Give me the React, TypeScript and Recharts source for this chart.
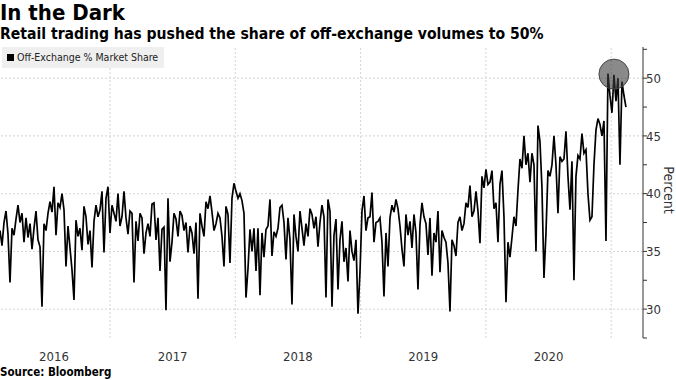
import React from "react";
import {
  ComposedChart,
  Line,
  Scatter,
  XAxis,
  YAxis,
  ReferenceLine,
} from "recharts";

// roughly one reading every 4 trading days, from mid-Feb 2016
const firstObs = 2016.122;
const obsPerYear = 62.65;

const shareValues = [
  36.8, 35.5, 37.5, 38.5, 36.5, 32.3, 37.0, 36.4, 37.8, 39.0,
  37.5, 38.3, 35.8, 37.9, 36.2, 37.4, 35.2, 37.0, 38.5, 36.0,
  35.4, 30.2, 37.4, 36.8, 38.3, 39.3, 38.4, 40.6, 36.4, 39.2,
  38.8, 40.0, 38.6, 33.7, 37.2, 35.3, 33.4, 30.8, 37.7, 36.3,
  37.0, 35.1, 38.9, 38.0, 35.6, 36.8, 33.6, 37.6, 39.0, 38.0,
  38.6, 40.2, 34.9, 39.6, 40.6, 36.6, 39.0, 38.3, 37.6, 40.0,
  37.2, 38.0, 40.2, 37.9, 36.5, 38.5, 38.3, 32.3, 37.6, 35.9,
  38.3, 37.9, 34.8, 36.6, 37.4, 36.3, 39.1, 39.2, 36.0, 37.9,
  33.3, 36.9, 37.1, 29.9, 39.6, 34.1, 35.8, 38.3, 37.8, 36.3,
  38.5, 38.1, 36.8, 37.5, 34.9, 37.2, 36.6, 34.8, 37.5, 30.9,
  38.3, 37.2, 36.3, 39.3, 38.7, 39.8, 38.4, 36.8, 37.4, 38.3,
  37.9, 36.3, 33.7, 38.9, 38.2, 34.0, 39.6, 40.9, 40.2, 39.6,
  40.0, 39.4, 38.3, 31.0, 33.5, 36.9, 35.0, 37.0, 33.3, 37.0,
  31.2, 36.6, 34.5, 36.9, 37.2, 39.5, 34.6, 36.7, 36.3, 37.0,
  38.8, 39.0, 37.5, 34.3, 37.9, 36.0, 30.4, 38.2, 36.3, 35.0,
  38.5, 37.0, 35.5, 37.4, 36.3, 38.7, 38.2, 37.0, 38.0, 35.4,
  37.5, 39.0, 38.0, 31.0, 39.5, 38.5, 30.2, 36.4, 37.8, 31.7,
  36.0, 37.6, 34.1, 35.3, 32.4, 36.8, 35.0, 34.2, 36.0, 29.6,
  33.2, 38.5, 39.8, 36.8, 37.9, 38.0, 40.1, 35.8, 37.5, 37.6,
  37.9, 35.8, 31.1, 36.6, 33.7, 37.9, 39.0, 38.4, 39.5, 38.7,
  37.2, 35.2, 33.7, 38.2, 36.4, 37.6, 35.3, 38.2, 36.6, 31.7,
  37.3, 39.2, 38.0, 37.4, 34.7, 37.9, 32.9, 36.6, 35.8, 38.5,
  33.2, 36.8, 36.2, 35.8, 34.0, 29.8, 36.0, 35.5, 34.6, 37.5,
  38.0, 36.8, 37.4, 39.2, 38.8, 40.7, 38.0, 38.5, 40.2, 38.5,
  35.7, 41.5, 40.5, 42.1, 40.8, 41.0, 42.0, 38.7, 39.2, 35.8,
  40.8, 42.0, 38.0, 30.6, 35.8, 34.5, 36.2, 38.0, 37.2, 40.3,
  43.0, 42.2, 45.0, 42.5, 43.5, 41.0, 43.5, 42.5, 35.0, 45.9,
  44.5, 40.5, 32.7, 36.6, 42.0, 41.5, 42.5, 45.0, 42.5, 38.3,
  43.2, 42.8, 43.0, 45.4, 41.5, 38.6, 42.8, 32.5, 41.5, 43.3,
  43.0, 45.2, 43.5, 43.8, 40.0, 37.7, 38.0, 42.5, 45.5, 46.5,
  46.0, 45.0, 46.3, 35.9, 50.4, 48.5, 47.0, 50.3, 48.0, 50.0,
  42.5, 49.7, 48.5, 47.5,
];

const yearLabels = ["2016", "2017", "2018", "2019", "2020"];
const yearLabelPos = [2016.553, 2017.5, 2018.5, 2019.5, 2020.5];
const yearStarts = [2017, 2018, 2019, 2020, 2021];
const percentTicks = [27.5, 30, 32.5, 35, 37.5, 40, 42.5, 45, 47.5, 50, 52.5];
const gridValues = [30, 35, 40, 45, 50];
const highlight = [{ t: 2021.022, share: 50.35 }];

const data = shareValues.map((v, i) => ({
  t: firstObs + i / obsPerYear,
  share: v,
}));

const narrow = "'DejaVu Sans Condensed', 'DejaVu Sans', sans-serif";

// translucent so the series shows through it
const HighlightCircle = (props: any) => (
  <circle
    cx={props.cx}
    cy={props.cy}
    r={15}
    fill="#3c3c3c"
    fillOpacity={0.6}
    stroke="#444"
    strokeWidth={1}
  />
);

const App = () => {
  return (
    <div style={{ position: "relative", width: 676, height: 380, background: "#fff" }}>
      <style>{`body{margin:0}`}</style>
      <div
        style={{
          position: "absolute",
          left: 0,
          top: 1,
          fontFamily: narrow,
          fontWeight: "bold",
          fontSize: 22,
          color: "#000",
          lineHeight: "24px",
        }}
      >
        In the Dark
      </div>
      <div
        style={{
          position: "absolute",
          left: 0,
          top: 25,
          fontFamily: narrow,
          fontWeight: "bold",
          fontSize: 15.6,
          color: "#000",
          lineHeight: "18px",
        }}
      >
        Retail trading has pushed the share of off-exchange volumes to 50%
      </div>
      <ComposedChart
        width={676}
        height={380}
        data={data}
        margin={{ top: 47, right: 0, bottom: 0, left: 0 }}
      >
        {gridValues.map((g) => (
          <ReferenceLine key={"h" + g} y={g} stroke="#d4d4d4" strokeDasharray="2 2" />
        ))}
        {yearStarts.map((y) => (
          <ReferenceLine key={"v" + y} x={y} stroke="#d4d4d4" strokeDasharray="2 2" />
        ))}
        <XAxis
          type="number"
          dataKey="t"
          domain={[2016.122, 2021.254]}
          ticks={yearLabelPos}
          tickFormatter={(v: number) => yearLabels[yearLabelPos.indexOf(v)]}
          axisLine={false}
          tickLine={false}
          height={42}
          allowDataOverflow
          tick={{ fontFamily: narrow, fontSize: 13, fill: "#333", dy: 6 }}
        />
        <YAxis
          orientation="right"
          domain={[27.5, 52.7]}
          ticks={percentTicks}
          tickFormatter={(v: number) => (v % 5 === 0 ? String(v) : "")}
          axisLine={{ stroke: "#333" }}
          tickLine={{ stroke: "#333" }}
          tickSize={4}
          width={33}
          allowDataOverflow
          tick={{ fontFamily: narrow, fontSize: 13, fill: "#333", textAnchor: "start", dx: -3 }}
        />
        <Scatter
          data={highlight}
          dataKey="share"
          shape={HighlightCircle}
          isAnimationActive={false}
        />
        <Line
          type="linear"
          dataKey="share"
          stroke="#000"
          strokeWidth={1.7}
          dot={false}
          isAnimationActive={false}
        />
      </ComposedChart>
      <div
        style={{
          position: "absolute",
          left: 2,
          top: 47,
          background: "#efefef",
          padding: "4px 6px 5px 5px",
          fontFamily: narrow,
          fontSize: 10.5,
          color: "#222",
          display: "inline-flex",
          alignItems: "center",
          gap: 3,
        }}
      >
        <span style={{ width: 7, height: 7, background: "#000", display: "inline-block" }} />
        Off-Exchange % Market Share
      </div>
      <div
        style={{
          position: "absolute",
          left: 669,
          top: 190,
          transform: "translate(-50%, -50%) rotate(90deg)",
          fontFamily: narrow,
          fontSize: 14,
          lineHeight: "14px",
          color: "#333",
          whiteSpace: "nowrap",
        }}
      >
        Percent
      </div>
      <div
        style={{
          position: "absolute",
          left: 0,
          top: 365,
          fontFamily: narrow,
          fontWeight: "bold",
          fontSize: 11.5,
          color: "#000",
        }}
      >
        Source: Bloomberg
      </div>
    </div>
  );
};

export default App;
